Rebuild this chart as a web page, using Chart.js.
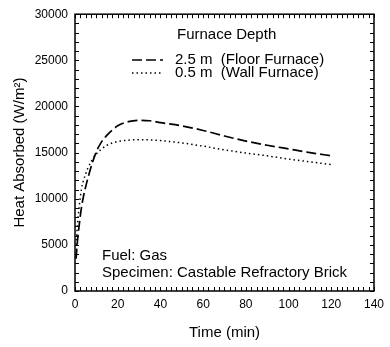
<!DOCTYPE html>
<html>
<head>
  <meta charset="UTF-8">
  <title>Heat Absorbed</title>
  <script src="https://cdn.jsdelivr.net/npm/chart.js"></script>
  <style>
    html, body { margin: 0; padding: 0; background: #fff; }
    #wrap { width: 390px; height: 347px; }
  </style>
</head>
<body>
  <div id="wrap"><canvas id="grafico" width="390" height="347"></canvas></div>

  <script>
    // valores
    const timeMin = [0.5, 1, 2, 3, 4, 5, 6, 8, 10, 12, 15, 20, 25, 30, 35, 40, 50, 60, 70, 80, 90, 100, 110, 120];
    const floorHeat = [3500, 5000, 7200, 9000, 10300, 11300, 12200, 13800, 15100, 16000, 16900, 17900, 18350, 18500, 18450, 18250, 17900, 17400, 16800, 16250, 15800, 15400, 15000, 14650];
    const wallHeat = [5000, 6800, 9200, 11000, 12000, 12700, 13300, 14200, 14850, 15300, 15800, 16200, 16350, 16400, 16380, 16300, 16050, 15700, 15300, 14950, 14650, 14300, 14000, 13700];
    const seriesLabels = ['2.5 m  (Floor Furnace)', '0.5 m  (Wall Furnace)'];
    const legendTitle = 'Furnace Depth';
    const notes = ['Fuel: Gas', 'Specimen: Castable Refractory Brick'];

    const dashFloor = [10, 4];
    const dashWall = [1.5, 3];
    const font = '"Liberation Sans", Arial, sans-serif';
    Chart.defaults.font.family = font;
    Chart.defaults.color = '#000';

    const pts = (ys) => timeMin.map((t, i) => ({ x: t, y: ys[i] }));

    // moldura, ticks menores e textos
    const extras = {
      id: 'extras',
      afterDraw(chart) {
        const { ctx, chartArea: a, scales } = chart;
        ctx.save();
        ctx.strokeStyle = '#000';
        ctx.lineWidth = 1;
        ctx.beginPath();
        for (let v = 0; v <= 140; v += 2.5) {
          const x = Math.round(scales.x.getPixelForValue(v)) + 0.5;
          ctx.moveTo(x, a.bottom); ctx.lineTo(x, a.bottom - 4);
          ctx.moveTo(x, a.top); ctx.lineTo(x, a.top + 4);
        }
        for (let v = 0; v <= 30000; v += 1000) {
          const y = Math.round(scales.y.getPixelForValue(v)) + 0.5;
          ctx.moveTo(a.left, y); ctx.lineTo(a.left + 4, y);
          ctx.moveTo(a.right, y); ctx.lineTo(a.right - 4, y);
        }
        ctx.stroke();
        ctx.lineWidth = 1.5;
        ctx.strokeRect(a.left, a.top, a.right - a.left, a.bottom - a.top);

        ctx.fillStyle = '#000';
        ctx.font = '15px ' + font;
        ctx.textBaseline = 'middle';
        ctx.textAlign = 'left';
        ctx.fillText(legendTitle, 177, 35);
        const rows = [[dashFloor, 60], [dashWall, 73]];
        rows.forEach(([dash, y], i) => {
          ctx.setLineDash(dash);
          ctx.lineWidth = 1.5;
          ctx.beginPath();
          ctx.moveTo(132, y); ctx.lineTo(163, y);
          ctx.stroke();
          ctx.setLineDash([]);
          ctx.fillText(seriesLabels[i], 175, y);
        });
        ctx.fillText(notes[0], 102, 256);
        ctx.fillText(notes[1], 102, 273);
        ctx.restore();
      }
    };

    const ctx = document.getElementById('grafico').getContext('2d');
    new Chart(ctx, {
      type: 'scatter',
      data: {
        datasets: [{
          label: seriesLabels[0],
          data: pts(floorHeat),
          showLine: true,
          borderColor: '#000',
          borderWidth: 1.7,
          borderDash: dashFloor,
          pointRadius: 0,
          cubicInterpolationMode: 'monotone'
        }, {
          label: seriesLabels[1],
          data: pts(wallHeat),
          showLine: true,
          borderColor: '#000',
          borderWidth: 1.5,
          borderDash: dashWall,
          pointRadius: 0,
          cubicInterpolationMode: 'monotone'
        }]
      },
      options: {
        responsive: false,
        animation: false,
        layout: { padding: { top: 11, right: 11, left: 0, bottom: 0 } },
        plugins: { legend: { display: false }, tooltip: { enabled: false } },
        scales: {
          x: {
            type: 'linear',
            min: 0, max: 140,
            ticks: { stepSize: 20, padding: 6, font: { size: 12 }, color: '#000', maxRotation: 0, callback: v => String(v) },
            grid: { display: false, drawTicks: false },
            border: { display: false },
            title: { display: true, text: 'Time (min)', font: { size: 15 }, color: '#000', padding: { top: 0, bottom: 5 } },
            afterFit(s) { s.height = 56; }
          },
          y: {
            min: 0, max: 30000,
            ticks: { stepSize: 5000, padding: 7, font: { size: 12 }, color: '#000', callback: v => String(v) },
            grid: { display: false, drawTicks: false },
            border: { display: false },
            title: { display: true, text: 'Heat Absorbed (W/m²)', font: { size: 15 }, color: '#000', padding: { top: 11, bottom: 0 } },
            afterFit(s) { s.width = 75; }
          }
        }
      },
      plugins: [extras]
    });
  </script>
</body>
</html>
